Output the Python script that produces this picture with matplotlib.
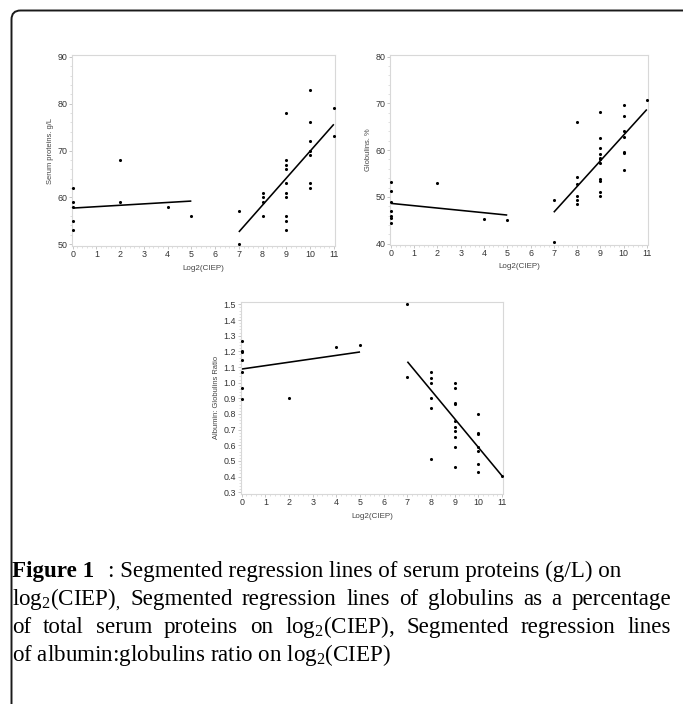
import matplotlib
matplotlib.use("Agg")
import matplotlib.pyplot as plt
from matplotlib.patches import FancyBboxPatch
from matplotlib.ticker import MultipleLocator, AutoMinorLocator

# Serum proteins, g/L
sp_low_x = [0, 0, 0, 0, 0, 2, 2, 4, 5]
sp_low_y = [62, 59, 58, 55, 53, 68, 59, 58, 56]
sp_high_x = [7, 7, 8, 8, 8, 8, 9, 9, 9, 9, 9, 9, 9, 9, 9, 9,
             10, 10, 10, 10, 10, 10, 10, 11, 11]
sp_high_y = [57, 50, 61, 60, 59, 56, 78, 68, 67, 66, 63, 61, 60, 56, 55, 53,
             83, 76, 72, 70, 69, 63, 62, 79, 73]
sp_fit_low = ([0, 5], [57.7, 59.2])
sp_fit_high = ([7, 11], [52.6, 75.6])

# Globulins, %
gl_low_x = [0, 0, 0, 0, 0, 0, 0, 2, 4, 5]
gl_low_y = [53.2, 51.2, 48.8, 47.0, 45.8, 45.5, 44.5, 52.9, 45.2, 45.0]
gl_high_x = [7, 7, 8, 8, 8, 8, 8, 8, 9, 9, 9, 9, 9, 9, 9, 9, 9, 9, 9,
             10, 10, 10, 10, 10, 10, 10, 11]
gl_high_y = [49.3, 40.4, 66.1, 54.3, 52.7, 50.2, 49.4, 48.5,
             68.2, 62.7, 60.4, 59.1, 58.4, 58.1, 57.3, 53.9, 53.4, 51.0, 50.2,
             69.7, 67.4, 64.2, 62.9, 59.7, 59.4, 55.7, 70.7]
gl_fit_low = ([0, 5], [48.6, 46.1])
gl_fit_high = ([7, 11], [46.7, 68.7])

# Albumin:globulins ratio
ag_low_x = [0, 0, 0, 0, 0, 0, 0, 2, 4, 5]
ag_low_y = [1.266, 1.204, 1.198, 1.147, 1.068, 0.966, 0.894, 0.902, 1.23, 1.238]
ag_high_x = [7, 7, 8, 8, 8, 8, 8, 8, 9, 9, 9, 9, 9, 9, 9, 9, 9, 9,
             10, 10, 10, 10, 10, 10, 10, 11]
ag_high_y = [1.5, 1.034, 1.07, 1.03, 1.0, 0.90, 0.84, 0.51,
             1.0, 0.968, 0.870, 0.862, 0.753, 0.719, 0.694, 0.655, 0.591, 0.464,
             0.80, 0.681, 0.672, 0.587, 0.564, 0.481, 0.432, 0.404]
ag_fit_low = ([0, 5], [1.087, 1.196])
ag_fit_high = ([7, 11], [1.134, 0.404])

x_ticks = list(range(0, 12))

W, H = 683, 704


def px_rect(left, top, right, bottom):
    return [left / W, 1 - bottom / H, (right - left) / W, (bottom - top) / H]


def draw_panel(ax, xs, ys, fits, ylabel, ylim, ymajor, yfmt):
    for x, y in zip(xs, ys):
        ax.scatter(x, y, s=5, color="black", linewidths=0, zorder=3, clip_on=False)
    for fx, fy in fits:
        ax.plot(fx, fy, color="black", lw=1.15, solid_capstyle="butt", zorder=2)

    ax.set_xlim(-0.04, 11.05)
    ax.set_ylim(*ylim)
    ax.set_xticks(x_ticks)
    ax.yaxis.set_major_locator(MultipleLocator(ymajor))
    ax.xaxis.set_minor_locator(AutoMinorLocator(5))
    ax.yaxis.set_minor_locator(AutoMinorLocator(5))
    ax.yaxis.set_major_formatter(yfmt)

    for s in ax.spines.values():
        s.set_color("#d8d8d8")
        s.set_linewidth(0.8)
    ax.tick_params(which="major", length=2, width=0.5, color="#b0b0b0",
                   labelsize=6.4, labelcolor="#333333", pad=1.2)
    ax.tick_params(which="minor", length=1.2, width=0.4, color="#c8c8c8")

    ax.set_xlabel("Log2(CIEP)", fontsize=5.8, color="#444444", labelpad=4)
    ax.set_ylabel(ylabel, fontsize=5.4, color="#444444", labelpad=2.5)


def main():
    plt.rcParams["font.family"] = ["Liberation Sans", "DejaVu Sans"]
    plt.rcParams["mathtext.default"] = "regular"

    fig = plt.figure(figsize=(W / 100, H / 100), dpi=100)

    ax1 = fig.add_axes(px_rect(71.7, 55, 335, 246))
    draw_panel(ax1, [sp_low_x, sp_high_x], [sp_low_y, sp_high_y],
               [sp_fit_low, sp_fit_high], "Serum proteins. g/L",
               (49.6, 90.4), 10, "{x:.0f}")

    ax2 = fig.add_axes(px_rect(390, 55, 648, 244.5))
    draw_panel(ax2, [gl_low_x, gl_high_x], [gl_low_y, gl_high_y],
               [gl_fit_low, gl_fit_high], "Globulins. %",
               (39.8, 80.36), 10, "{x:.0f}")

    ax3 = fig.add_axes(px_rect(240.7, 301.7, 503.3, 494))
    draw_panel(ax3, [ag_low_x, ag_high_x], [ag_low_y, ag_high_y],
               [ag_fit_low, ag_fit_high], "Albumin: Globulins Ratio",
               (0.289, 1.517), 0.1, "{x:.1f}")

    # page frame (top and left edge only)
    frame = FancyBboxPatch((0.115, -1.0), 8.0, 7.935,
                           boxstyle="round,pad=0,rounding_size=0.09",
                           transform=fig.dpi_scale_trans, fill=False,
                           edgecolor="#1a1a1a", lw=1.4, clip_on=False)
    fig.patches.append(frame)

    # caption
    serif = ["Liberation Serif", "DejaVu Serif"]
    cap_size = 16.6
    renderer = fig.canvas.get_renderer()

    def justify(words, y_px, x0, x1):
        texts = [fig.text(0, 1 - y_px / H, w, fontsize=cap_size, family=serif,
                          va="baseline", ha="left") for w in words]
        widths = [t.get_window_extent(renderer).width for t in texts]
        gap = (x1 - x0 - sum(widths)) / (len(words) - 1)
        x = x0
        for t, w in zip(texts, widths):
            t.set_x(x / W)
            x += w + gap

    fig.text(12 / W, 1 - 577 / H, "Figure 1", fontsize=cap_size, family=serif,
             fontweight="bold", va="baseline", ha="left")
    fig.text(108 / W, 1 - 577 / H,
             ": Segmented regression lines of serum proteins (g/L) on",
             fontsize=cap_size, family=serif, va="baseline", ha="left")
    justify(r"log$_2$(CIEP)$_,$ Segmented regression lines of globulins as a percentage".split(),
            605, 12, 671)
    justify(r"of total serum proteins on log$_2$(CIEP), Segmented regression lines".split(),
            633, 12, 671)
    fig.text(12 / W, 1 - 661 / H,
             r"of albumin:globulins ratio on log$_2$(CIEP)",
             fontsize=cap_size, family=serif, va="baseline", ha="left")

    fig.savefig("out.png", dpi=100)
    plt.close(fig)


if __name__ == "__main__":
    main()
